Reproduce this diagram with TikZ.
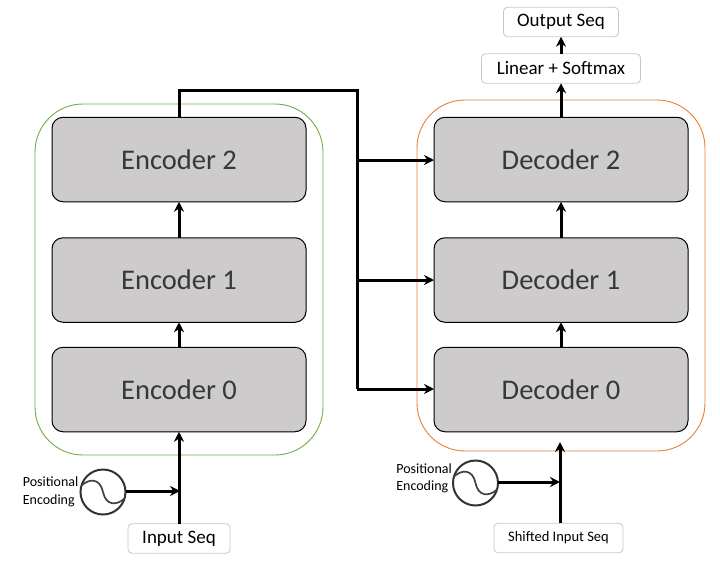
\documentclass[tikz,border=0pt]{standalone}
\usepackage{fontspec}
\setmainfont{Carlito}
\usetikzlibrary{arrows.meta, positioning}

\definecolor{blockgray}{HTML}{CDCBCB}
\definecolor{enclinecol}{HTML}{70AD47}
\definecolor{declinecol}{HTML}{ED7D31}

\newcommand{\sinewave}[1]{
    \draw[wavecol] (#1.163) .. controls +(8,-7) and +(-3,-14) .. (#1.center) .. controls +(3,14) and +(-8,7) .. (#1.343);
}

\begin{document}
\begin{tikzpicture}[
    x=1pt, y=-1pt,
    block/.style={rectangle, draw, fill=blockgray, line width=1pt, rounded corners=11pt, minimum width=254pt, minimum height=84.5pt, outer sep=0pt, font=\fontsize{28.5}{32}\selectfont, text=black!78},
    group/.style={rectangle, draw, line width=0.9pt, rounded corners=48pt, minimum width=288pt, minimum height=351pt, outer sep=0pt},
    io/.style={rectangle, draw=black!22, line width=0.8pt, rounded corners=4pt, minimum height=29.5pt, inner sep=0pt, outer sep=0pt, font=\fontsize{19}{22}\selectfont},
    arrow/.style={-{Stealth[length=10pt, width=10pt]}, line width=3pt},
    link/.style={line width=3pt},
    wave/.style={circle, draw=black!80, line width=2pt, minimum size=45pt, inner sep=0pt, outer sep=0pt},
    wavecol/.style={draw=black!75, line width=1.7pt},
    pelabel/.style={align=left, font=\fontsize{14}{17.5}\selectfont, inner sep=0pt}
]
    \useasboundingbox (0,0) rectangle (720,571);

    % outlines
    \node[group, draw=enclinecol] (encgroup) at (179,279.5) {};
    \node[group, draw=declinecol] (decgroup) at (561,275.5) {};

    % encoder stack
    \node[block] (enc0) at (179,389.5) {Encoder 0};
    \node[block, above=25pt of enc0] (enc1) {Encoder 1};
    \node[block, above=36pt of enc1] (enc2) {Encoder 2};

    % decoder stack
    \node[block] (dec0) at (561,389.5) {Decoder 0};
    \node[block, above=25pt of dec0] (dec1) {Decoder 1};
    \node[block, above=36pt of dec1] (dec2) {Decoder 2};

    % top and bottom boxes
    \node[io, minimum width=159pt, above=34pt of dec2] (linear) {Linear + Softmax};
    \node[io, minimum width=115pt, above=17pt of linear] (output) {Output Seq};
    \node[io, minimum width=102pt] (input) at (179,538.5) {Input Seq};
    \node[io, minimum width=129pt, font=\fontsize{14.5}{18}\selectfont] (shifted) at (558.5,538) {Shifted Input Seq};

    % positional encoding
    \node[wave] (pe0) at (103,492) {};
    \node[wave] (pe1) at (475.5,483) {};
    \sinewave{pe0}
    \sinewave{pe1}
    \node[pelabel, left=2pt of pe0] (pe0label) {Positional\\Encoding};
    \node[pelabel, left=1pt of pe1, yshift=4.5pt] (pe1label) {Positional\\Encoding};

    % junctions
    \coordinate (top0) at (179,90);
    \coordinate (top1) at (357,90);
    \coordinate (bus2) at (357,160);
    \coordinate (bus1) at (357,280);
    \coordinate (bus0) at (357,389);
    \coordinate (enc0in) at (180,491);
    \coordinate (dec0in) at (560,482);
    \coordinate (dec0tip) at (560,442);

    \draw[arrow] (enc0) -- (enc1);
    \draw[arrow] (enc1) -- (enc2);
    \draw[arrow] (dec0) -- (dec1);
    \draw[arrow] (dec1) -- (dec2);
    \draw[arrow] (dec2) -- (linear);
    \draw[arrow] (linear) -- (output);

    \draw[link] (enc2.north) -- (top0) -- (top1) -- (bus0);
    \draw[arrow] (bus2) -- (dec2.west |- bus2);
    \draw[arrow] (bus1) -- (dec1.west |- bus1);
    \draw[arrow] (bus0) -- (dec0.west |- bus0);

    \draw[arrow] (input) -- (enc0);
    \draw[arrow] (pe0.east |- enc0in) -- (enc0in);
    \draw[arrow] (shifted.north -| dec0tip) -- (dec0tip);
    \draw[arrow] (pe1.east |- dec0in) -- (dec0in);
\end{tikzpicture}
\end{document}
